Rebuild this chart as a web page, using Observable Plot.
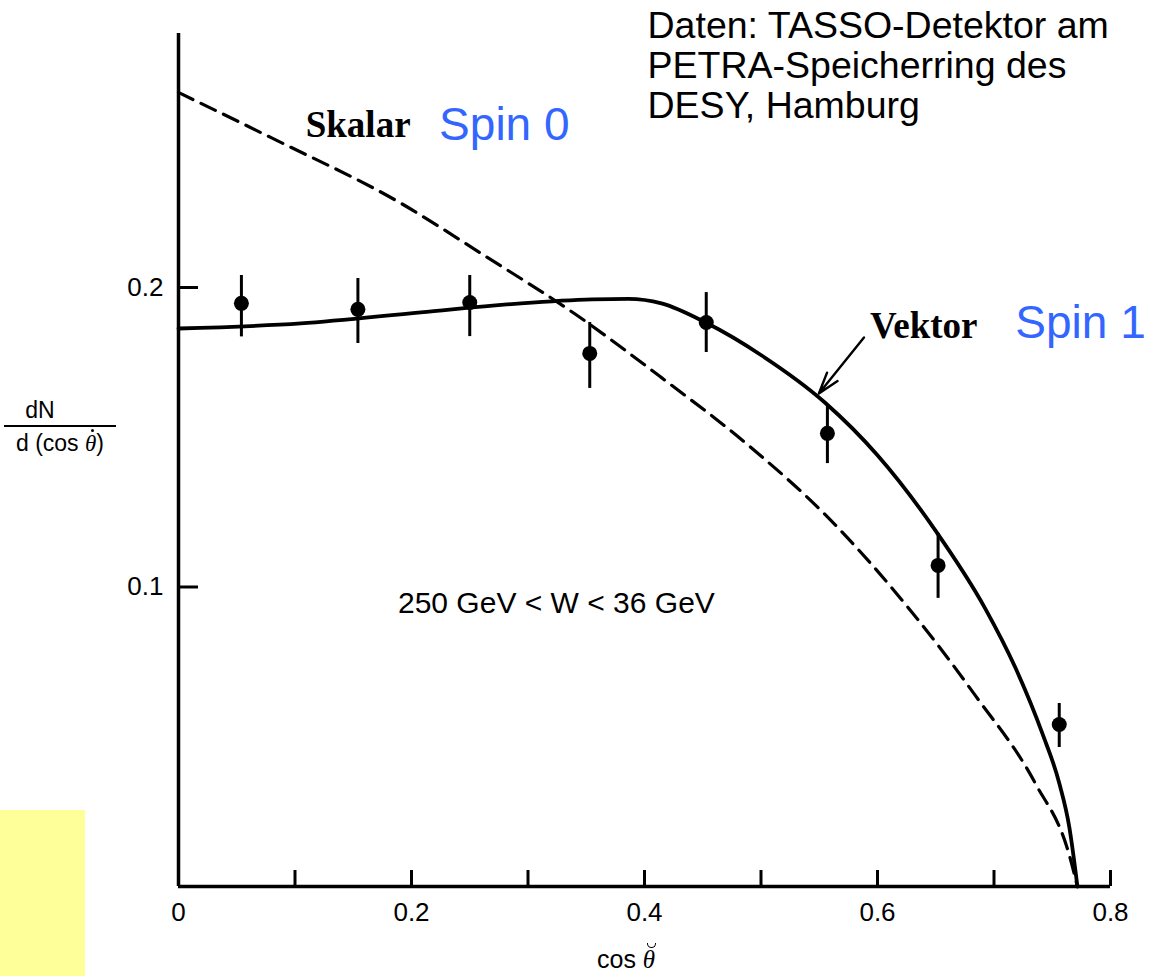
<!DOCTYPE html>
<html><head><meta charset="utf-8">
<script src="https://cdn.jsdelivr.net/npm/d3@7"></script>
<script src="https://cdn.jsdelivr.net/npm/@observablehq/plot@0.6"></script>
<style>
body{margin:0;background:#fff;}
#wrap{position:relative;width:1155px;height:976px;overflow:hidden;background:#fff;}
#yellow{position:absolute;left:0;top:810px;width:85px;height:166px;background:#ffff99;}
#chart{position:absolute;left:0;top:0;}
.lbl{position:absolute;font-family:"Liberation Sans",Arial,sans-serif;color:#000;}
.th{position:relative;display:inline-block;font-style:italic;font-family:"Liberation Serif",serif;}
.dot{position:absolute;left:6px;top:-1px;width:3px;height:3px;border-radius:50%;background:#000;}
.breve{position:absolute;left:4px;top:-3px;width:7px;height:4px;border:1.5px solid #000;border-top:none;border-radius:0 0 5px 5px;}
</style></head><body>
<div id="wrap">
<div id="yellow"></div>
<div id="chart"></div>
<div class="lbl" id="ylab" style="left:4px;top:397px;width:112px;text-align:center;font-size:23px;line-height:27px;">
  <div style="display:inline-block;padding:0 40px 1px 0;">dN</div>
  <div style="border-top:2px solid #000;padding-top:3px;">d (cos <span class="th">θ<span class="dot"></span></span>)</div>
</div>
<div class="lbl" id="xlab" style="left:597px;top:945px;font-size:25px;">cos <span class="th">θ<span class="breve"></span></span></div>
</div>
<script>
// measured data points (cos theta bins), values and error bars
const pointX = [0.054, 0.154, 0.250, 0.353, 0.453, 0.557, 0.652, 0.756];
const pointY = [0.1947, 0.1927, 0.1950, 0.1780, 0.1883, 0.1513, 0.1072, 0.0541];
const errLow = [0.1835, 0.1813, 0.1836, 0.1663, 0.1783, 0.1412, 0.0962, 0.0464];
const errHigh = [0.2040, 0.2030, 0.2040, 0.1883, 0.1983, 0.1606, 0.1179, 0.0611];

// Vektor (spin 1) prediction, solid curve
const vektorX = [0, 0.105, 0.208, 0.294, 0.355, 0.386, 0.4146, 0.4525, 0.5006, 0.5548, 0.600, 0.6495, 0.6925, 0.7183, 0.7415, 0.7561, 0.7647, 0.7699, 0.7716];
const vektorY = [0.1863, 0.1880, 0.1917, 0.1947, 0.1960, 0.1962, 0.1947, 0.1883, 0.1773, 0.1616, 0.1440, 0.1190, 0.0928, 0.0731, 0.0511, 0.0344, 0.0197, 0.0053, 0];

// Skalar (spin 0) prediction, dashed curve
const skalarX = [0, 0.0791, 0.191, 0.2624, 0.3398, 0.4146, 0.4895, 0.5583, 0.6297, 0.6839, 0.7355, 0.7647, 0.7716];
const skalarY = [0.2651, 0.2501, 0.2281, 0.2107, 0.1913, 0.1699, 0.1472, 0.1229, 0.0915, 0.0638, 0.0344, 0.0104, 0];

// axis ticks
const xTicks = [0, 0.1, 0.2, 0.3, 0.4, 0.5, 0.6, 0.7, 0.8];
const xTickLabels = [0, 0.2, 0.4, 0.6, 0.8];
const yTicks = [0.1, 0.2];

// annotations
const annoSkalar = {x: 0.1092, y: 0.2501, text: "Skalar"};
const annoSpin0 = {x: 0.2237, y: 0.2491, text: "Spin 0"};
const annoVektor = {x: 0.5935, y: 0.1833, text: "Vektor"};
const annoSpin1 = {x: 0.7183, y: 0.1833, text: "Spin 1"};
const annoRange = {x: 0.1884, y: 0.0912, text: "250 GeV < W < 36 GeV"};
const annoDaten = {x: 0.4026, y: 0.2835, text: "Daten: TASSO-Detektor am\nPETRA-Speicherring des\nDESY, Hamburg"};
const arrowVektor = {x1: 0.5884, y1: 0.1833, x2: 0.5497, y2: 0.1646};

const points = pointX.map((x, i) => ({x, y: pointY[i], lo: errLow[i], hi: errHigh[i]}));
const vektor = vektorX.map((x, i) => ({x, y: vektorY[i]}));
const skalar = skalarX.map((x, i) => ({x, y: skalarY[i]}));
const fmt = d => d === 0 ? "0" : d.toFixed(1);

const chart = Plot.plot({
  width: 1155,
  height: 976,
  marginLeft: 178,
  marginRight: 45,
  marginTop: 33,
  marginBottom: 90,
  style: {fontFamily: "'Liberation Sans', Arial, sans-serif", fontSize: "26px", background: "transparent", color: "#000"},
  x: {domain: [0, 0.8]},
  y: {domain: [0, 0.2848]},
  marks: [
    Plot.axisX({ticks: xTicks, tickSize: -16, strokeWidth: 3, tickFormat: () => "", label: null}),
    Plot.axisX({ticks: xTickLabels, tickSize: 0, tickPadding: 16, tickFormat: fmt, fontSize: 26, label: null}),
    Plot.axisY({ticks: yTicks, tickSize: -20, strokeWidth: 3, tickFormat: () => "", label: null}),
    Plot.axisY({ticks: yTicks, tickSize: 0, tickPadding: 15, tickFormat: fmt, fontSize: 26, label: null}),
    Plot.ruleY([0], {stroke: "#000", strokeWidth: 3.5}),
    Plot.ruleX([0], {stroke: "#000", strokeWidth: 3.5}),
    Plot.line(skalar, {x: "x", y: "y", stroke: "#000", strokeWidth: 3.2, strokeDasharray: "16,9", curve: "monotone-x"}),
    Plot.line(vektor, {x: "x", y: "y", stroke: "#000", strokeWidth: 3.8, curve: "monotone-x"}),
    Plot.ruleX(points, {x: "x", y1: "lo", y2: "hi", stroke: "#000", strokeWidth: 3}),
    Plot.dot(points, {x: "x", y: "y", r: 7.5, fill: "#000", stroke: null}),
    Plot.arrow([arrowVektor], {x1: "x1", y1: "y1", x2: "x2", y2: "y2", stroke: "#000", strokeWidth: 2.4, headLength: 14, headAngle: 35}),
    Plot.text([annoSkalar, annoVektor], {x: "x", y: "y", text: "text", textAnchor: "start", lineAnchor: "bottom", fontFamily: "'Liberation Serif', 'Times New Roman', serif", fontWeight: "bold", fontSize: 37, fill: "#000"}),
    Plot.text([annoSpin0, annoSpin1], {x: "x", y: "y", text: "text", textAnchor: "start", lineAnchor: "bottom", fontFamily: "'Liberation Sans', Arial, sans-serif", fontSize: 46, fill: "#3366ff"}),
    Plot.text([annoRange], {x: "x", y: "y", text: "text", textAnchor: "start", lineAnchor: "bottom", fontSize: 30, fill: "#000"}),
    Plot.text([annoDaten], {x: "x", y: "y", text: "text", textAnchor: "start", lineAnchor: "top", fontSize: 37.5, lineHeight: 1.07, fill: "#000", dy: -28})
  ]
});
document.getElementById("chart").appendChild(chart);
</script>
</body></html>
